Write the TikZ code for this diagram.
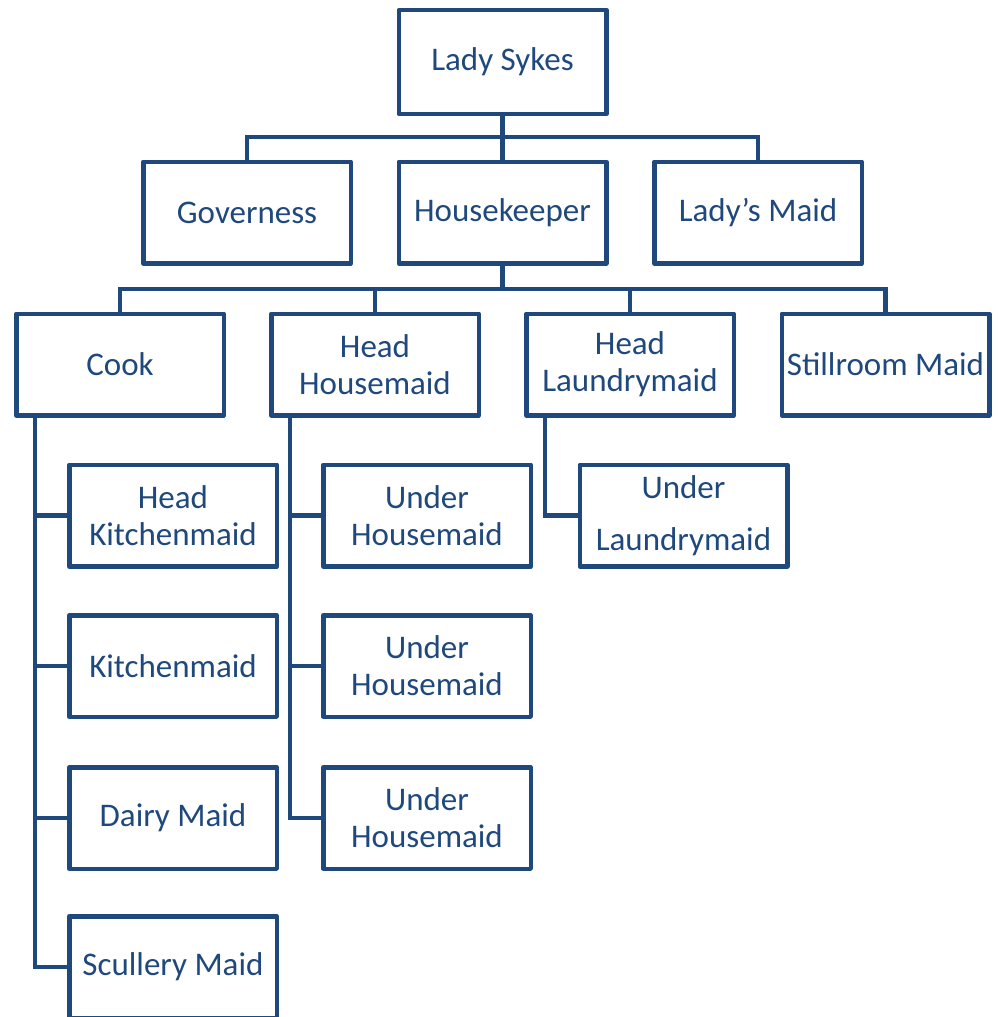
\documentclass[tikz,border=0pt]{standalone}
\usepackage{fontspec}
\setmainfont{Carlito}[Ligatures=ResetAll]
\definecolor{chartblue}{RGB}{31,73,125}
\begin{document}
\begin{tikzpicture}[x=1pt,y=-1pt,
  box/.style={draw=chartblue, line width=4.5pt, line join=round, fill=white,
    minimum width=207.5pt, minimum height=101.5pt, inner sep=0pt,
    text=chartblue, align=center, font=\fontsize{33}{37}\selectfont},
  conn/.style={draw=chartblue, line width=4.5pt}]
\useasboundingbox (0,0) rectangle (998,1017);
\clip (0,0) rectangle (998,1017);
% top
\node[box, minimum height=104pt] (ls) at (502.5,62) {Lady Sykes};
\node[box] (gov) at (247,212.5) {Governess};
\node[box] (hk) at (502.5,212.5) {Housekeeper};
\node[box] (lm) at (758,212.5) {Lady's Maid};
% third row
\node[box] (cook) at (120,364.5) {Cook};
\node[box] (hh) at (375,364.5) {Head\\Housemaid};
\node[box] (hl) at (630,364.5) {Head\\Laundrymaid};
\node[box] (sm) at (885.5,364.5) {Stillroom Maid};
% cook children
\node[box] (c1) at (173,515.5) {Head\\Kitchenmaid};
\node[box] (c2) at (173,666) {Kitchenmaid};
\node[box] (c3) at (173,818) {Dairy Maid};
\node[box] (c4) at (173,967) {Scullery Maid};
% housemaid children
\node[box] (h1) at (427,515.5) {Under\\Housemaid};
\node[box] (h2) at (427,666) {Under\\Housemaid};
\node[box] (h3) at (427,818) {Under\\Housemaid};
% laundry child
\node[box] (l1) at (683.5,515.5) {Under\\[15pt]Laundrymaid};
% buses
\coordinate (b1) at (502.5,137);
\coordinate (b2) at (502.5,289);
\draw[conn] (ls.south) -- (hk.north);
\draw[conn] (gov.north) |- (b1) -| (lm.north);
\draw[conn] (hk.south) -- (b2);
\draw[conn] (cook.north) |- (b2) -| (sm.north);
\draw[conn] (hh.north) -- (hh.north |- b2);
\draw[conn] (hl.north) -- (hl.north |- b2);
% child connectors
\draw[conn] ([xshift=21pt]cook.south west) |- (c4.west)
  ([xshift=21pt]cook.south west |- c1.west) -- (c1.west)
  ([xshift=21pt]cook.south west |- c2.west) -- (c2.west)
  ([xshift=21pt]cook.south west |- c3.west) -- (c3.west);
\draw[conn] ([xshift=21pt]hh.south west) |- (h3.west)
  ([xshift=21pt]hh.south west |- h1.west) -- (h1.west)
  ([xshift=21pt]hh.south west |- h2.west) -- (h2.west);
\draw[conn] ([xshift=21pt]hl.south west) |- (l1.west);
\end{tikzpicture}
\end{document}
